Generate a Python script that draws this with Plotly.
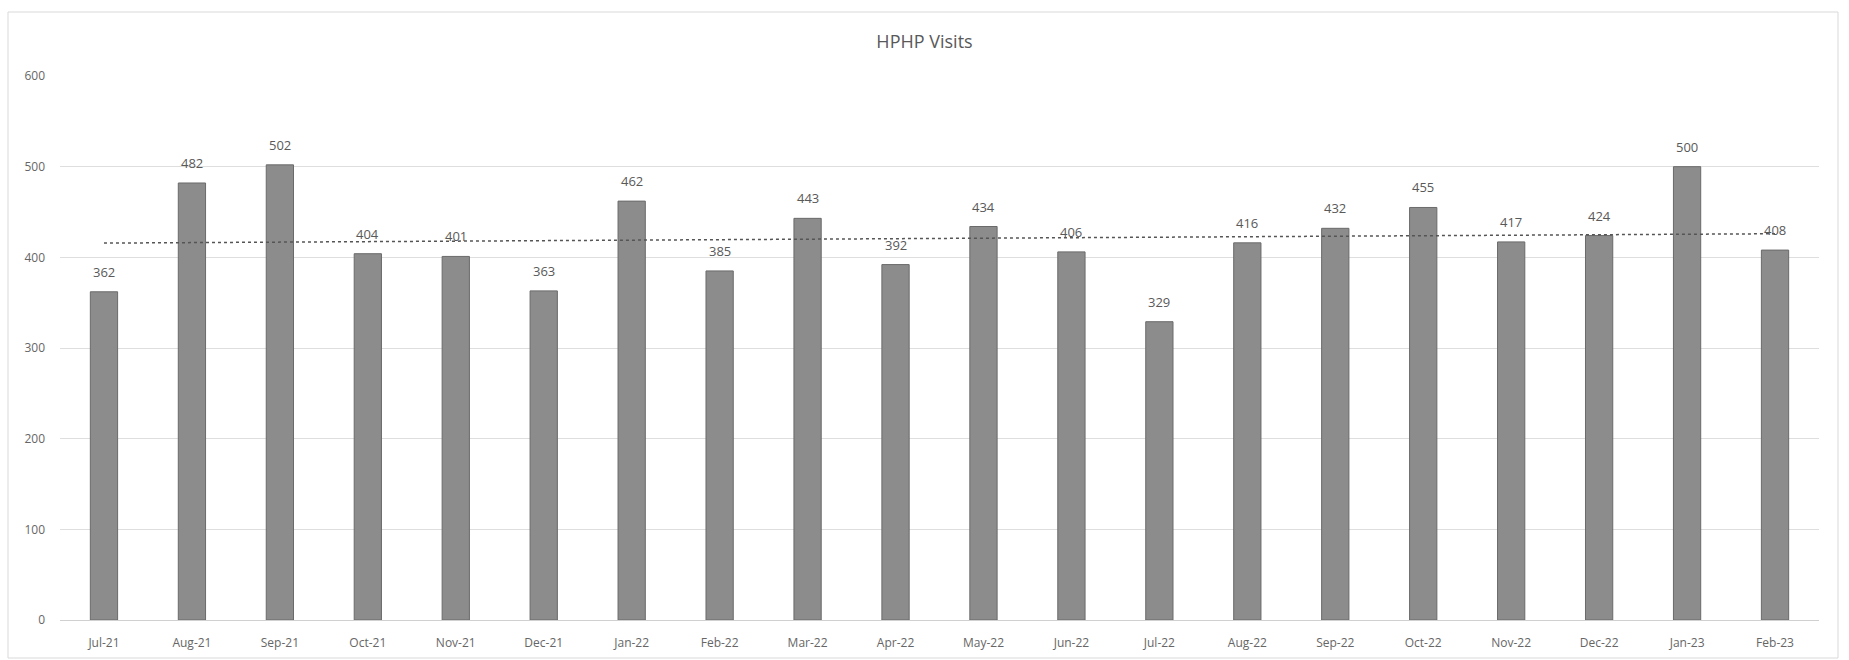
import numpy as np
import plotly.graph_objects as go

months = ["Jul-21", "Aug-21", "Sep-21", "Oct-21", "Nov-21", "Dec-21", "Jan-22", "Feb-22",
          "Mar-22", "Apr-22", "May-22", "Jun-22", "Jul-22", "Aug-22", "Sep-22", "Oct-22",
          "Nov-22", "Dec-22", "Jan-23", "Feb-23"]
visits = [362, 482, 502, 404, 401, 363, 462, 385, 443, 392, 434, 406, 329, 416, 432, 455,
          417, 424, 500, 408]
y_ticks = [0, 100, 200, 300, 400, 500, 600]

# Linear trendline (as Excel's trendline) from the data
idx = np.arange(len(visits))
slope, intercept = np.polyfit(idx, visits, 1)
trend = slope * idx + intercept

W, H = 1849, 660
ml, mr, mt, mb = 60, 30, 76, 40

fig = go.Figure()
fig.add_trace(go.Bar(
    x=months, y=visits,
    marker=dict(color="#8c8c8c", line=dict(color="#6a6a6a", width=1)),
    width=0.31, showlegend=False,
))
fig.add_trace(go.Scatter(
    x=months, y=trend, mode="lines",
    line=dict(color="#555555", width=1.5, dash="dot"),
    showlegend=False, hoverinfo="skip",
))

annotations = [dict(x=m, y=v, text=str(v), showarrow=False, xref="x", yref="y",
                    yanchor="bottom", yshift=9,
                    font=dict(family="Open Sans", size=13, color="#595959"))
               for m, v in zip(months, visits)]

pw = W - ml - mr
ph = H - mt - mb
fig.update_layout(
    width=W, height=H,
    margin=dict(l=ml, r=mr, t=mt, b=mb),
    paper_bgcolor="white", plot_bgcolor="white",
    title=dict(text="HPHP Visits", x=0.5, xanchor="center", y=1 - 42 / H, yanchor="middle",
               font=dict(family="Open Sans", size=18, color="#595959")),
    xaxis=dict(type="category", showgrid=False, showline=True, linecolor="#d0d0d0",
               ticks="", ticklabelstandoff=12, automargin=False,
               tickfont=dict(family="Open Sans", size=12, color="#666666")),
    yaxis=dict(range=[0, 600], tickvals=y_ticks, showgrid=True, gridcolor="#dedede",
               zeroline=False, showline=False, ticks="", ticklabelstandoff=14,
               automargin=False,
               tickfont=dict(family="Open Sans", size=12, color="#666666")),
    annotations=annotations,
    shapes=[dict(type="rect", xref="paper", yref="paper",
                 x0=(8 - ml) / pw, x1=(1838 - ml) / pw,
                 y0=-(658 - (H - mb)) / ph, y1=1 + (mt - 12) / ph,
                 line=dict(color="#d9d9d9", width=1), layer="below")],
)

fig.write_html("out.html")
